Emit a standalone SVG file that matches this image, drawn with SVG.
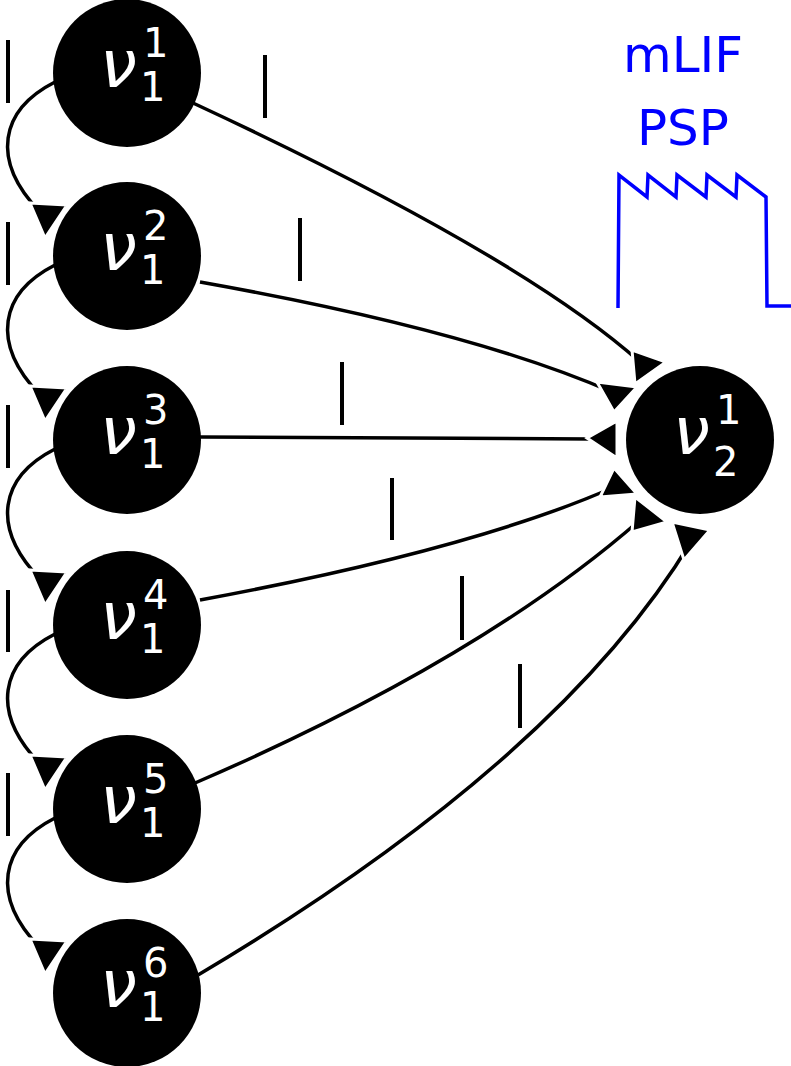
<svg xmlns="http://www.w3.org/2000/svg" width="791" height="1066" viewBox="0 0 791 1066">
<style>
.n{fill:#000}
.e{fill:none;stroke:#000;stroke-width:3.5}
.t{stroke:#000;stroke-width:4}
.h{fill:#000;stroke:#fff;stroke-width:3}
.nu{font-family:"DejaVu Sans",sans-serif;font-style:italic;font-size:66px;fill:#fff}
.ix{font-family:"DejaVu Sans",sans-serif;font-size:40px;fill:#fff}
.b{font-family:"DejaVu Sans",sans-serif;font-size:50px;fill:#00f;text-anchor:middle}
</style>
<rect width="791" height="1066" fill="#fff"/>
<g id="connectors">
<path class="e" d="M193,103 Q520,255 640,362"/>
<path class="e" d="M200,282 Q470,330 612,392"/>
<path class="e" d="M200,437 L590,439"/>
<path class="e" d="M200,600 Q470,550 612,488"/>
<path class="e" d="M195,783 Q480,660 640,520"/>
<path class="e" d="M198,975 Q560,760 692,540"/>
<path class="e" d="M55,82 C0,110 -10,160 40,212"/>
<path class="e" d="M55,265 C0,293 -10,343 40,395"/>
<path class="e" d="M55,449 C0,477 -10,527 40,579"/>
<path class="e" d="M55,634 C0,662 -10,712 40,764"/>
<path class="e" d="M55,818 C0,846 -10,896 40,948"/>
<polygon class="h" points="632,350 666,362 635,384"/>
<polygon class="h" points="597,382 637,387 614,412"/>
<polygon class="h" points="617,421 587,438 617,458"/>
<polygon class="h" points="614,468 637,494 600,497"/>
<polygon class="h" points="635,497 667,522 632,532"/>
<polygon class="h" points="672,522 710,530 684,560"/>
<polygon class="h" points="30,203 67,205 45,238"/>
<polygon class="h" points="30,386 67,388 45,421"/>
<polygon class="h" points="30,570 67,572 45,605"/>
<polygon class="h" points="30,755 67,757 45,790"/>
<polygon class="h" points="30,939 67,941 45,974"/>
</g>
<g id="ticks">
<line class="t" x1="8" y1="40" x2="8" y2="103"/>
<line class="t" x1="8" y1="222" x2="8" y2="285"/>
<line class="t" x1="8" y1="405" x2="8" y2="468"/>
<line class="t" x1="8" y1="590" x2="8" y2="652"/>
<line class="t" x1="8" y1="773" x2="8" y2="836"/>
<line class="t" x1="265" y1="55" x2="265" y2="118"/>
<line class="t" x1="300" y1="218" x2="300" y2="281"/>
<line class="t" x1="342" y1="362" x2="342" y2="425"/>
<line class="t" x1="392" y1="478" x2="392" y2="540"/>
<line class="t" x1="462" y1="576" x2="462" y2="640"/>
<line class="t" x1="520" y1="664" x2="520" y2="728"/>
</g>
<g id="n11"><circle class="n" cx="127" cy="73" r="74"/><text class="nu" x="100" y="87">ν</text><text class="ix" x="143" y="57">1</text><text class="ix" x="140" y="101">1</text></g>
<g id="n12"><circle class="n" cx="127" cy="256" r="74"/><text class="nu" x="100" y="270">ν</text><text class="ix" x="143" y="240">2</text><text class="ix" x="140" y="284">1</text></g>
<g id="n13"><circle class="n" cx="127" cy="440" r="74"/><text class="nu" x="100" y="454">ν</text><text class="ix" x="143" y="424">3</text><text class="ix" x="140" y="468">1</text></g>
<g id="n14"><circle class="n" cx="127" cy="625" r="74"/><text class="nu" x="100" y="639">ν</text><text class="ix" x="143" y="609">4</text><text class="ix" x="140" y="653">1</text></g>
<g id="n15"><circle class="n" cx="127" cy="809" r="74"/><text class="nu" x="100" y="823">ν</text><text class="ix" x="143" y="793">5</text><text class="ix" x="140" y="837">1</text></g>
<g id="n16"><circle class="n" cx="127" cy="993" r="74"/><text class="nu" x="100" y="1007">ν</text><text class="ix" x="143" y="977">6</text><text class="ix" x="140" y="1021">1</text></g>
<g id="n21"><circle class="n" cx="700" cy="440" r="74"/><text class="nu" x="673" y="454">ν</text><text class="ix" x="716" y="424">1</text><text class="ix" x="713" y="476">2</text></g>
<g id="psp">
<text class="b" x="683" y="72">mLIF</text>
<text class="b" x="683" y="145">PSP</text>
<path fill="none" stroke="#00f" stroke-width="3.5" d="M618,308 L619,175 L647,197 L648,175 L676,197 L677,175 L706,197 L707,175 L736,197 L737,175 L766,197 L767,306 L791,306"/>
</g>
</svg>
